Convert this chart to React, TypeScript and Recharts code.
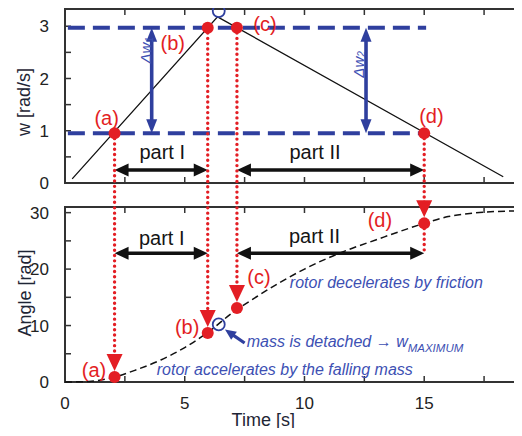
import React from 'react';
import { ComposedChart, Line, XAxis, YAxis, ReferenceLine, ReferenceDot } from 'recharts';

// ---------- data ----------
const timeTicks = [0, 2.5, 5, 7.5, 10, 12.5, 15, 17.5];
const timeLabelTicks = [0, 5, 10, 15];
const wTicks = [0, 0.5, 1, 1.5, 2, 2.5, 3];
const wLabelTicks = [0, 1, 2, 3];
const angleTicks = [0, 5, 10, 15, 20, 25, 30];
const angleLabelTicks = [0, 10, 20, 30];

// angular velocity (top panel)
const wTime = [0.3, 6.37, 18.3];
const wValues = [0.08, 3.18, 0.12];

// rotation angle (bottom panel)
const angleTime = [0, 1, 2, 3, 4, 5, 6, 7, 8, 9, 10, 11, 12, 13, 14, 15, 16, 17, 18, 19];
const angleValues = [0, 0.1, 0.8, 2.2, 3.9, 6.1, 8.9, 12.3, 15.1, 17.7, 20.0, 22.0, 23.7, 25.2, 26.7, 28.1, 29.3, 29.9, 30.2, 30.3];

// events (a)-(d)
const eventNames = ['(a)', '(b)', '(c)', '(d)'];
const eventTime = [2.07, 5.96, 7.18, 15.0];
const eventW = [0.95, 2.97, 2.97, 0.95];
const eventAngle = [0.9, 8.7, 13.1, 28.1];

// detach point (maximum)
const maxTime = 6.42;
const maxW = 3.29;
const maxAngle = 10.2;

const timeDomain = [0, 19];
const wDomain = [0, 3.33];
const angleDomain = [0, 31];

const wData = wTime.map((t, i) => ({ t, w: wValues[i] }));
const angleData = angleTime.map((t, i) => ({ t, a: angleValues[i] }));

// ---------- styles ----------
const FONT = '"Liberation Sans", Arial, Helvetica, sans-serif';
const AXIS = '#333';
const RED = '#e31e24';
const BLUE = '#2f3f9e';
const BLUE_TEXT = '#3d50b3';
const LABEL = '#1e2535';
const TICK_TEXT = '#222';

const W = 522;
const H = 436;
const TICK_LEN = 6;

// ---------- shapes ----------
function arrowShape(color: string, width: number, headLen: number, headW: number, startHead: boolean, endHead: boolean) {
  return (p: any) => {
    const { x1, y1, x2, y2 } = p;
    const dx = x2 - x1;
    const dy = y2 - y1;
    const L = Math.hypot(dx, dy) || 1;
    const ux = dx / L;
    const uy = dy / L;
    const nx = -uy;
    const ny = ux;
    const head = (tx: number, ty: number, dx0: number, dy0: number) => {
      const bx = tx - dx0 * headLen;
      const by = ty - dy0 * headLen;
      return `${tx},${ty} ${bx + nx * headW / 2},${by + ny * headW / 2} ${bx - nx * headW / 2},${by - ny * headW / 2}`;
    };
    const sx = startHead ? x1 + ux * headLen * 0.7 : x1;
    const sy = startHead ? y1 + uy * headLen * 0.7 : y1;
    const ex = endHead ? x2 - ux * headLen * 0.7 : x2;
    const ey = endHead ? y2 - uy * headLen * 0.7 : y2;
    return (
      <g>
        <line x1={sx} y1={sy} x2={ex} y2={ey} stroke={color} strokeWidth={width} />
        {startHead && <polygon points={head(x1, y1, -ux, -uy)} fill={color} />}
        {endHead && <polygon points={head(x2, y2, ux, uy)} fill={color} />}
      </g>
    );
  };
}

// frame + inward ticks of a panel, drawn from the panel's diagonal segment
function frameShape(xTickPx: (p: any) => number[], yTickPx: (p: any) => number[]) {
  return (p: any) => {
    const { x1, y1, x2, y2 } = p;
    const left = Math.min(x1, x2);
    const right = Math.max(x1, x2);
    const top = Math.min(y1, y2);
    const bottom = Math.max(y1, y2);
    const xs = xTickPx(p);
    const ys = yTickPx(p);
    return (
      <g>
        <rect x={left} y={top} width={right - left} height={bottom - top} fill="none" stroke={AXIS} strokeWidth={2} />
        {xs.map((x, i) => (
          <g key={`x${i}`}>
            <line x1={x} y1={bottom} x2={x} y2={bottom - TICK_LEN} stroke={AXIS} strokeWidth={1.5} />
            <line x1={x} y1={top} x2={x} y2={top + TICK_LEN} stroke={AXIS} strokeWidth={1.5} />
          </g>
        ))}
        {ys.map((y, i) => (
          <g key={`y${i}`}>
            <line x1={left} y1={y} x2={left + TICK_LEN} y2={y} stroke={AXIS} strokeWidth={1.5} />
            <line x1={right} y1={y} x2={right - TICK_LEN} y2={y} stroke={AXIS} strokeWidth={1.5} />
          </g>
        ))}
      </g>
    );
  };
}

function linearPx(v: number, d0: number, d1: number, p0: number, p1: number) {
  return p0 + ((v - d0) / (d1 - d0)) * (p1 - p0);
}

function panelFrame(yTicks: number[], yDomain: number[]) {
  const [tx0, tx1] = timeDomain;
  const [y0, y1] = yDomain;
  const shape = frameShape(
    (p) => timeTicks.map((v) => linearPx(v, tx0, tx1, p.x1, p.x2)),
    (p) => yTicks.map((v) => linearPx(v, y0, y1, p.y1, p.y2)),
  );
  return <ReferenceLine ifOverflow="visible" segment={[{ x: tx0 + 1e-9, y: y0 + 1e-9 }, { x: tx1, y: y1 }]} shape={shape} />;
}

const dottedShape = (p: any) => (
  <line x1={p.x1} y1={p.y1} x2={p.x2} y2={p.y2} stroke={RED} strokeWidth={3.4}
    strokeDasharray="0 5.3" strokeLinecap="round" />
);

// dotted line ending with a down-pointing triangle just above the point
const dottedTriangleShape = (p: any) => {
  const tipY = p.y2 - 6;
  const baseY = tipY - 17;
  return (
    <g>
      <line x1={p.x1} y1={p.y1} x2={p.x2} y2={baseY + 4} stroke={RED} strokeWidth={3.4}
        strokeDasharray="0 5.3" strokeLinecap="round" />
      <polygon points={`${p.x2 - 8},${baseY} ${p.x2 + 8},${baseY} ${p.x2},${tipY}`} fill={RED} />
    </g>
  );
};

const redPoint = (p: any) => <circle cx={p.cx} cy={p.cy} r={6} fill={RED} />;
const openCircle = (p: any) => <circle cx={p.cx} cy={p.cy} r={6} fill="none" stroke={BLUE} strokeWidth={1.8} />;

function textShape(content: React.ReactNode, opts: { size: number; color: string; anchor?: string; italic?: boolean; rotate?: number; baseline?: string }) {
  return (p: any) => (
    <text
      x={p.cx}
      y={p.cy}
      fontFamily={FONT}
      fontSize={opts.size}
      fill={opts.color}
      textAnchor={opts.anchor || 'middle'}
      dominantBaseline={opts.baseline || 'central'}
      fontStyle={opts.italic ? 'italic' : 'normal'}
      transform={opts.rotate ? `rotate(${opts.rotate} ${p.cx} ${p.cy})` : undefined}
    >
      {content}
    </text>
  );
}

function txt(key: string, x: number, y: number, shape: (p: any) => React.ReactElement) {
  return <ReferenceDot key={key} x={x} y={y} r={0} ifOverflow="visible" shape={shape} />;
}

const tickStyle = { fill: TICK_TEXT, fontSize: 17, fontFamily: FONT };
const intFmt = (list: number[]) => (v: number) => (list.includes(v) ? String(v) : '');

// ---------- top panel ----------
function TopPanel() {
  const pos = { position: 'absolute' as const, left: 0, top: 0 };
  return (
    <div style={pos}>
      <ComposedChart width={W} height={H} data={wData} margin={{ top: 9, right: 2, bottom: 233, left: 0 }}>
        <XAxis dataKey="t" type="number" domain={timeDomain} ticks={timeTicks} tick={false}
          tickLine={false} height={20} axisLine={false} />
        <YAxis type="number" domain={wDomain} ticks={wTicks} tickFormatter={intFmt(wLabelTicks)}
          tickLine={false} tickMargin={10} width={65} tick={tickStyle} axisLine={false} />

        {panelFrame(wTicks, wDomain)}

        {/* blue dashed levels */}
        <ReferenceLine ifOverflow="visible" segment={[{ x: 0.12, y: eventW[1] }, { x: 15.08, y: eventW[1] }]}
          stroke={BLUE} strokeWidth={4} strokeDasharray="17 8" />
        <ReferenceLine ifOverflow="visible" segment={[{ x: 0.12, y: eventW[0] }, { x: 15.0, y: eventW[0] }]}
          stroke={BLUE} strokeWidth={4} strokeDasharray="17 8" />

        <Line dataKey="w" type="linear" stroke="#111" strokeWidth={1.3} dot={false} isAnimationActive={false} />

        {/* delta w arrows */}
        <ReferenceLine ifOverflow="visible" segment={[{ x: 3.62, y: eventW[1] }, { x: 3.62, y: eventW[0] }]}
          shape={arrowShape(BLUE, 3.6, 14, 11, true, true)} />
        <ReferenceLine ifOverflow="visible" segment={[{ x: 12.57, y: eventW[2] }, { x: 12.57, y: eventW[3] }]}
          shape={arrowShape(BLUE, 3.6, 14, 11, true, true)} />

        {/* part arrows */}
        <ReferenceLine ifOverflow="visible" segment={[{ x: eventTime[0], y: 0.25 }, { x: eventTime[1], y: 0.25 }]}
          shape={arrowShape('#111', 3.5, 14, 13, true, true)} />
        <ReferenceLine ifOverflow="visible" segment={[{ x: eventTime[2], y: 0.25 }, { x: eventTime[3], y: 0.25 }]}
          shape={arrowShape('#111', 3.5, 14, 13, true, true)} />

        {/* red dotted drop lines */}
        {eventTime.map((t, i) => (
          <ReferenceLine key={`drop${i}`} ifOverflow="visible" segment={[{ x: t, y: eventW[i] }, { x: t, y: -0.44 }]}
            shape={dottedShape} />
        ))}

        {eventTime.map((t, i) => (
          <ReferenceDot key={`pt${i}`} x={t} y={eventW[i]} r={6} ifOverflow="visible" shape={redPoint} />
        ))}
        <ReferenceDot x={maxTime} y={maxW} r={6} ifOverflow="visible" shape={openCircle} />

        {txt('la', 1.74, 1.24, textShape(eventNames[0], { size: 20, color: RED }))}
        {txt('lb', 4.5, 2.68, textShape(eventNames[1], { size: 20, color: RED }))}
        {txt('lc', 8.35, 3.04, textShape(eventNames[2], { size: 20, color: RED }))}
        {txt('ld', 15.3, 1.28, textShape(eventNames[3], { size: 20, color: RED }))}

        {txt('p1', 4.06, 0.46, textShape('part I', { size: 20, color: '#151515', baseline: 'auto' }))}
        {txt('p2', 10.44, 0.46, textShape('part II', { size: 20, color: '#151515', baseline: 'auto' }))}

        {txt('dw1', 3.38, 2.54, textShape(<>Δw<tspan fontSize={10} dy={3}>1</tspan></>, { size: 15, color: BLUE_TEXT, italic: true, rotate: -90 }))}
        {txt('dw2', 12.25, 2.27, textShape(<>Δw<tspan fontSize={10} dy={3}>2</tspan></>, { size: 15, color: BLUE_TEXT, italic: true, rotate: -90 }))}

        {txt('ylab', -1.72, 1.55, textShape('w [rad/s]', { size: 18, color: LABEL, rotate: -90 }))}
      </ComposedChart>
    </div>
  );
}

// ---------- bottom panel ----------
function BottomPanel() {
  const pos = { position: 'absolute' as const, left: 0, top: 0 };
  return (
    <div style={pos}>
      <ComposedChart width={W} height={H} data={angleData} margin={{ top: 207, right: 2, bottom: 24, left: 0 }}>
        <XAxis dataKey="t" type="number" domain={timeDomain} ticks={timeTicks} tickFormatter={intFmt(timeLabelTicks)}
          tickLine={false} tickMargin={9} height={30} tick={tickStyle} axisLine={false} />
        <YAxis type="number" domain={angleDomain} ticks={angleTicks} tickFormatter={intFmt(angleLabelTicks)}
          tickLine={false} tickMargin={10} width={65} tick={tickStyle} axisLine={false} />

        {panelFrame(angleTicks, angleDomain)}

        <Line dataKey="a" type="monotone" stroke="#111" strokeWidth={1.5} strokeDasharray="7 4" dot={false} isAnimationActive={false} />

        {/* part arrows */}
        <ReferenceLine ifOverflow="visible" segment={[{ x: eventTime[0], y: 22.8 }, { x: eventTime[1], y: 22.8 }]}
          shape={arrowShape('#111', 3.5, 14, 13, true, true)} />
        <ReferenceLine ifOverflow="visible" segment={[{ x: eventTime[2], y: 22.8 }, { x: eventTime[3], y: 22.8 }]}
          shape={arrowShape('#111', 3.5, 14, 13, true, true)} />

        {/* dotted lines from top panel with triangles */}
        {eventTime.map((t, i) => (
          <ReferenceLine key={`dl${i}`} ifOverflow="visible" segment={[{ x: t, y: 30.85 }, { x: t, y: eventAngle[i] }]}
            shape={dottedTriangleShape} />
        ))}
        <ReferenceLine ifOverflow="visible" segment={[{ x: eventTime[3], y: eventAngle[3] }, { x: eventTime[3], y: 22.6 }]}
          shape={dottedShape} />

        {eventTime.map((t, i) => (
          <ReferenceDot key={`bp${i}`} x={t} y={eventAngle[i]} r={6} ifOverflow="visible" shape={redPoint} />
        ))}
        <ReferenceDot x={maxTime} y={maxAngle} r={6} ifOverflow="visible" shape={openCircle} />

        {/* blue pointer arrow to detach point */}
        <ReferenceLine ifOverflow="visible" segment={[{ x: 7.5, y: 6.9 }, { x: 6.68, y: 9.3 }]}
          shape={arrowShape(BLUE, 3.2, 11, 10, false, true)} />

        {txt('ba', 1.21, 2.1, textShape(eventNames[0], { size: 20, color: RED }))}
        {txt('bb', 5.1, 9.7, textShape(eventNames[1], { size: 20, color: RED }))}
        {txt('bc', 8.1, 18.6, textShape(eventNames[2], { size: 20, color: RED }))}
        {txt('bd', 13.15, 28.7, textShape(eventNames[3], { size: 20, color: RED }))}

        {txt('bp1', 4.04, 24.2, textShape('part I', { size: 20, color: '#151515', baseline: 'auto' }))}
        {txt('bp2', 10.42, 24.6, textShape('part II', { size: 20, color: '#151515', baseline: 'auto' }))}

        {txt('t1', 3.83, 1.24, textShape('rotor accelerates by the falling mass', { size: 16, color: BLUE_TEXT, italic: true, anchor: 'start', baseline: 'auto' }))}
        {txt('t2', 7.59, 6.2, textShape(<>mass is detached → w<tspan fontSize={11.5} dy={5}>MAXIMUM</tspan></>, { size: 16, color: BLUE_TEXT, italic: true, anchor: 'start', baseline: 'auto' }))}
        {txt('t3', 9.39, 16.6, textShape('rotor decelerates by friction', { size: 16, color: BLUE_TEXT, italic: true, anchor: 'start', baseline: 'auto' }))}

        {txt('ylab2', -1.69, 15.75, textShape('Angle [rad]', { size: 18, color: LABEL, rotate: -90 }))}
        {txt('xlab', 8.28, -6.73, textShape('Time [s]', { size: 18, color: LABEL }))}
      </ComposedChart>
    </div>
  );
}

export default function App() {
  return (
    <div style={{ position: 'relative', width: W, height: H, margin: '-8px', background: '#fff' }}>
      <BottomPanel />
      <TopPanel />
    </div>
  );
}
